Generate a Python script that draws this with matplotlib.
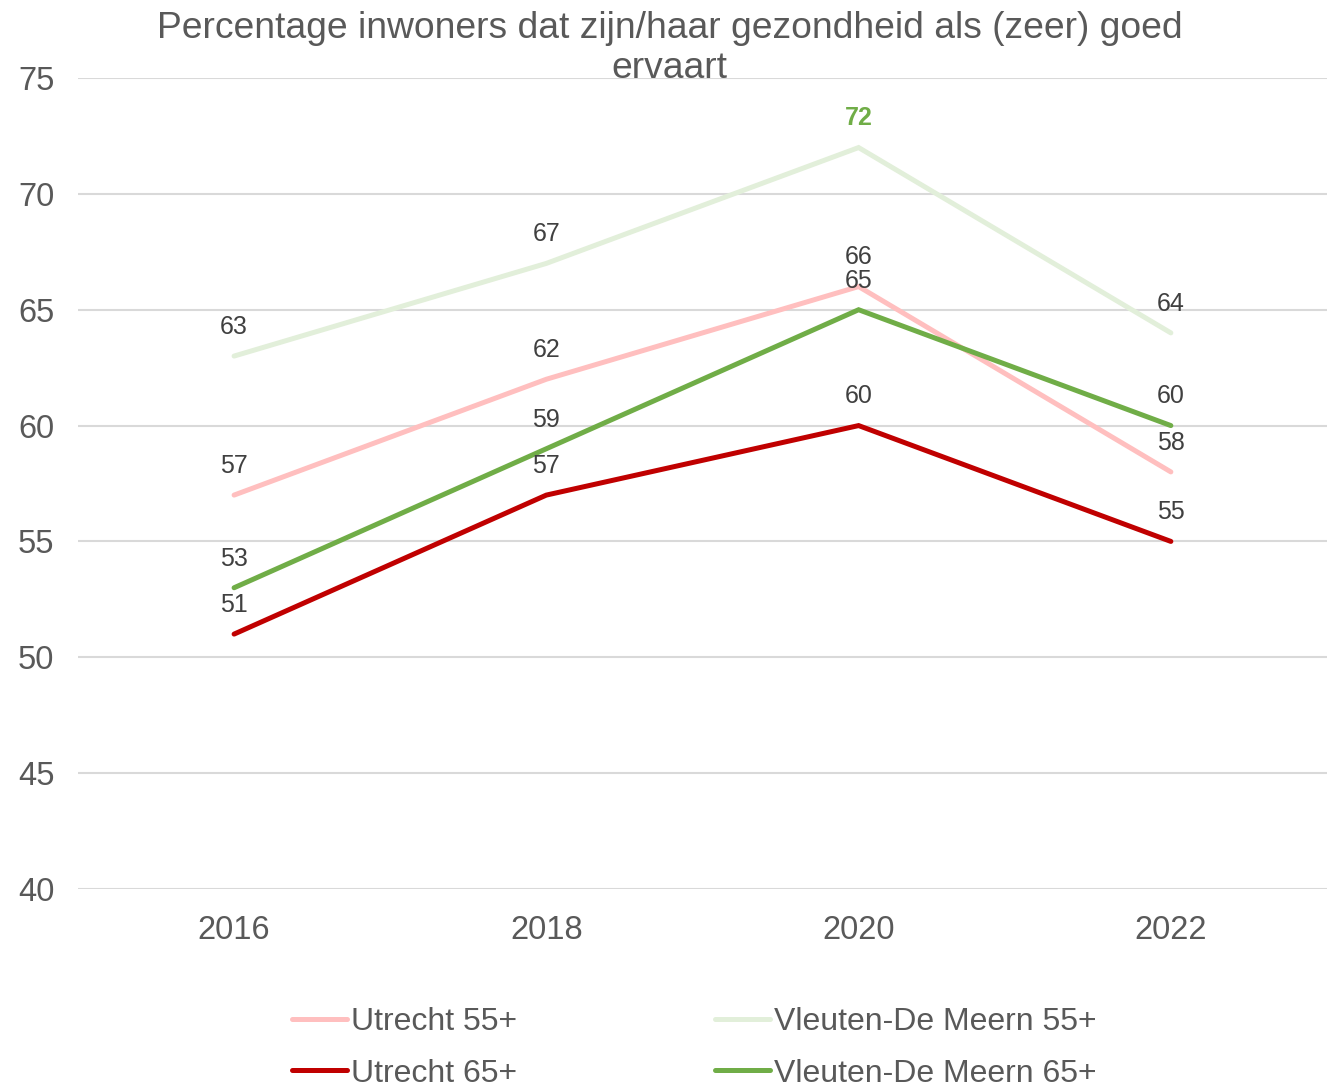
import matplotlib
matplotlib.use("Agg")
import matplotlib.pyplot as plt

plt.rcParams["font.family"] = ["Liberation Sans", "DejaVu Sans"]

YEARS = ["2016", "2018", "2020", "2022"]
UTRECHT_55 = [57, 62, 66, 58]
VLEUTEN_55 = [63, 67, 72, 64]
UTRECHT_65 = [51, 57, 60, 55]
VLEUTEN_65 = [53, 59, 65, 60]

SERIES = [
    ("Utrecht 55+", UTRECHT_55, "#FFBFBF"),
    ("Vleuten-De Meern 55+", VLEUTEN_55, "#E2EFDA"),
    ("Utrecht 65+", UTRECHT_65, "#C00000"),
    ("Vleuten-De Meern 65+", VLEUTEN_65, "#70AD47"),
]

GRAY = "#595959"
LABEL = "#404040"

fig = plt.figure(figsize=(13.35, 10.87), dpi=100)
ax = fig.add_axes([0.0584, 0.1822, 0.9356, 0.746])

x = list(range(len(YEARS)))
lines = {}
for name, vals, color in SERIES:
    (ln,) = ax.plot(x, vals, color=color, lw=3.6, solid_capstyle="round",
                    solid_joinstyle="miter", label=name)
    lines[name] = ln
    for xi, v in zip(x, vals):
        # the peak of Vleuten 55+ is highlighted in bold green
        highlight = vals is VLEUTEN_55 and v == max(VLEUTEN_55)
        ax.annotate(str(v), (xi, v), xytext=(0, 21), textcoords="offset points",
                    ha="center", va="center", fontsize=18,
                    color="#70AD47" if highlight else LABEL,
                    fontweight="bold" if highlight else "normal")

ax.set_xlim(-0.5, 3.5)
ax.set_ylim(40, 75)
ax.set_yticks(range(40, 76, 5))
ax.set_xticks(x)
ax.set_xticklabels(YEARS)
ax.tick_params(length=0, labelsize=23.5, colors=GRAY)
ax.tick_params(axis="x", pad=18.5)
ax.tick_params(axis="y", pad=17)
ax.grid(axis="y", color="#D9D9D9", lw=1.5)
ax.set_axisbelow(True)
for s in ax.spines.values():
    s.set_visible(False)

fig.text(0.5015, 0.990, "Percentage inwoners dat zijn/haar gezondheid als (zeer) goed\nervaart",
         ha="center", va="top", fontsize=26.8, color=GRAY, linespacing=1.2)

order = ["Utrecht 55+", "Utrecht 65+", "Vleuten-De Meern 55+", "Vleuten-De Meern 65+"]
fig.legend([lines[n] for n in order], order, ncol=2, loc="center",
           bbox_to_anchor=(0.52, 0.036), frameon=False, fontsize=23,
           labelcolor=GRAY, handlelength=1.72, handletextpad=0.12,
           columnspacing=6.2, labelspacing=0.67)

fig.savefig("out.png", dpi=100)
